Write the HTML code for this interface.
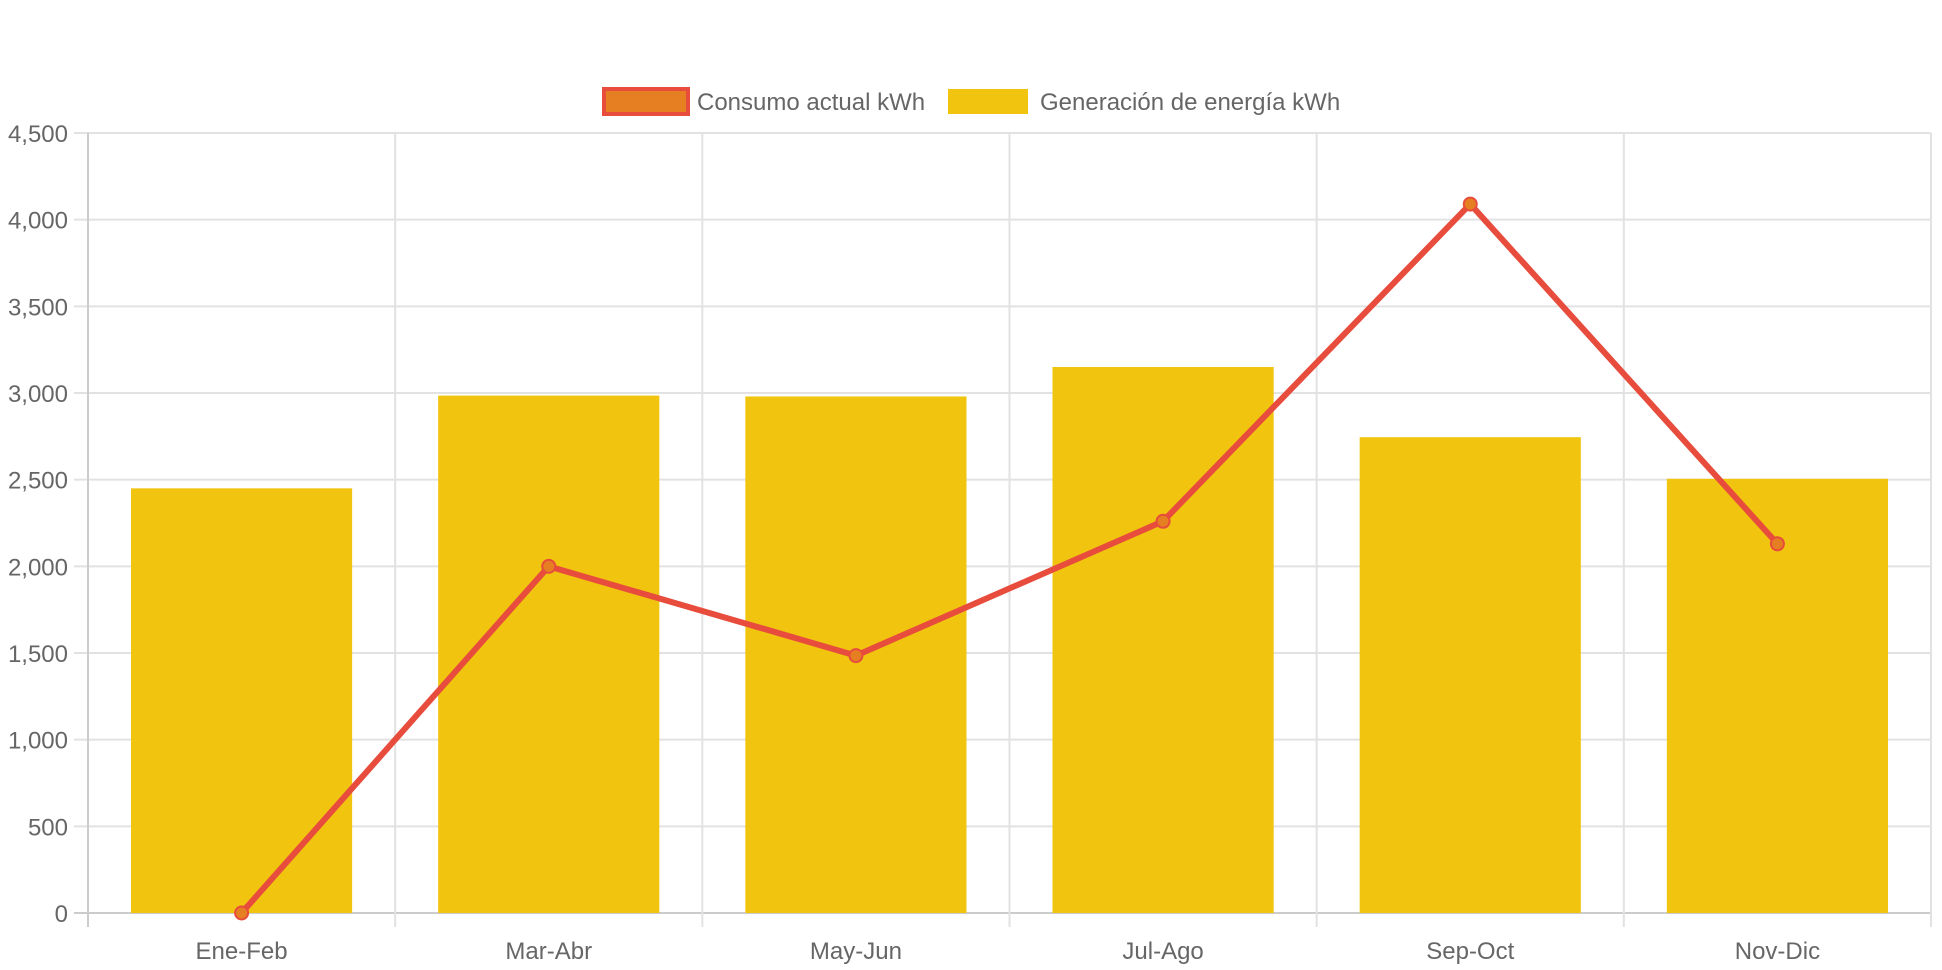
<!DOCTYPE html>
<html><head><meta charset="utf-8"><style>
html,body{margin:0;padding:0;background:#fff;}
svg{display:block;font-family:"Liberation Sans",sans-serif;}
</style></head><body>
<svg id="chart" width="1942" height="970" viewBox="0 0 1942 970" xmlns="http://www.w3.org/2000/svg">
<g id="legend">
 <g>
  <rect x="604" y="89" width="84" height="25" fill="#e67e22" stroke="#e74c3c" stroke-width="4"/>
  <text x="697" y="110" font-size="24" fill="#666">Consumo actual kWh</text>
 </g>
 <g>
  <rect x="948" y="89" width="80" height="25" fill="#f1c40f"/>
  <text x="1040" y="110" font-size="24" fill="#666">Generación de energía kWh</text>
 </g>
</g>
<g id="grid"></g>
<g id="bars"></g>
<g id="line"></g>
<g id="axes"></g>
</svg>
<script>
const categories = ["Ene-Feb","Mar-Abr","May-Jun","Jul-Ago","Sep-Oct","Nov-Dic"];
const generacion = [2450, 2985, 2980, 3150, 2745, 2505];
const consumo = [0, 2000, 1485, 2260, 4090, 2130];
const yTicks = [0,500,1000,1500,2000,2500,3000,3500,4000,4500];
const yTickLabels = ["0","500","1,000","1,500","2,000","2,500","3,000","3,500","4,000","4,500"];

const NS="http://www.w3.org/2000/svg";
const L=88,R=1931,T=133,B=913,YMAX=4500;
const bw=(R-L)/categories.length;
function x(i){return L+bw*(i+0.5);}
function y(v){return B-(v/YMAX)*(B-T);}
function mk(tag,attrs,parent){const e=document.createElementNS(NS,tag);for(const k in attrs)e.setAttribute(k,attrs[k]);parent.appendChild(e);return e;}
const grid=document.getElementById('grid'),bars=document.getElementById('bars'),line=document.getElementById('line'),axes=document.getElementById('axes');
yTicks.forEach((t,i)=>{
 const g=mk('line',{x1:L-14,x2:R,y1:y(t),y2:y(t),stroke:t===0?'#ccc':'#e2e2e2','stroke-width':2},grid);
 
 
 const tx=mk('text',{x:L-20,y:y(t)+9,'text-anchor':'end','font-size':24,fill:'#666'},axes);
 tx.textContent=yTickLabels[i];
 
 
});
for(let i=0;i<=categories.length;i++){
 const xx=L+bw*i;
 const g=mk('line',{x1:xx,x2:xx,y1:T,y2:B+14,stroke:i===0?'#ccc':'#e2e2e2','stroke-width':2},grid);
 
 
}
categories.forEach((c,i)=>{
 const w=bw*0.72;
 const r=mk('rect',{x:x(i)-w/2,y:y(generacion[i]),width:w,height:B-y(generacion[i]),fill:'#f1c40f'},bars);
 
 
 const tx=mk('text',{x:x(i),y:B+46,'text-anchor':'middle','font-size':24,fill:'#666'},axes);
 tx.textContent=c;
 
 
});
const pts=consumo.map((v,i)=>x(i)+','+y(v)).join(' ');
const pl=mk('polyline',{points:pts,fill:'none',stroke:'#e74c3c','stroke-width':6,'stroke-linejoin':'round'},line);


consumo.forEach((v,i)=>{
 const c=mk('circle',{cx:x(i),cy:y(v),r:6.5,fill:'#e67e22',stroke:'#e74c3c','stroke-width':2},line);
 
 
});
</script>
</body></html>
